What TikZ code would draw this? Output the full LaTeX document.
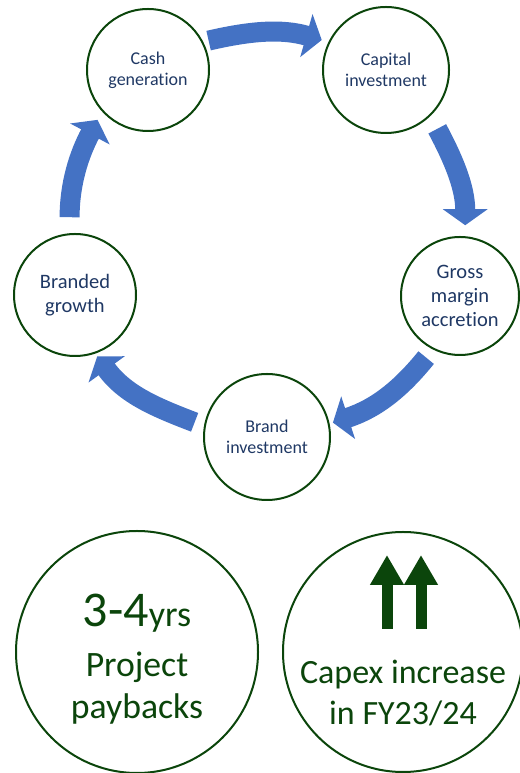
\documentclass[tikz,border=0pt]{standalone}
\usepackage{fontspec}
\setmainfont{Carlito}[Ligatures=NoCommon]
\usetikzlibrary{arrows.meta,calc}
\definecolor{ringgreen}{HTML}{0B450B}
\definecolor{cyclenavy}{HTML}{1F3864}
\definecolor{flowblue}{HTML}{4472C4}
\tikzset{
  ring/.style={circle,draw=ringgreen,line width=2pt,minimum size=122pt,inner sep=0pt,
    align=center,text=cyclenavy,font=\fontsize{18}{21}\selectfont},
  bigring/.style={circle,draw=ringgreen,line width=2pt,minimum size=240pt,inner sep=0pt},
  bigtext/.style={text=ringgreen,align=center,inner sep=0pt},
  flow/.style={draw=flowblue,line width=20pt,-{Triangle[length=16pt,width=44pt]}},
  lift/.style={draw=ringgreen,line width=11pt,-{Triangle[length=30pt,width=32pt]}}
}

\begin{document}
\begin{tikzpicture}[x=1pt,y=1pt]
\useasboundingbox (0,0) rectangle (519,773);
% the cycle
\node[ring] (cash) at (148,703) {Cash\\generation};
\node[ring,minimum size=126pt] (capital) at (386,703) {Capital\\investment};
\node[ring,minimum size=118pt,font=\fontsize{20.5}{24}\selectfont] (gross) at (460,477) {Gross\\margin\\accretion};
\node[ring,minimum size=126pt] (brandinv) at (267,336) {Brand\\investment};
\node[ring,font=\fontsize{20.5}{24}\selectfont] (branded) at (75,478) {Branded\\growth};
\draw[flow,shorten <=5.5pt,shorten >=7pt] (cash.27) to[out=13,in=164] (capital.154);
\draw[flow,shorten <=14.5pt,shorten >=11pt] (capital.-46.5) to[out=-62,in=90] (gross.85);
\draw[flow,shorten <=10.5pt,shorten >=3.5pt] (gross.243) to[out=-129,in=18] (brandinv.12);
\draw[flow,shorten <=10pt,shorten >=3.5pt] (brandinv.170) to[out=159,in=-54] (branded.-71);
\draw[flow,shorten <=16pt,shorten >=9.5pt] (branded.95) to[out=90,in=-118] (cash.222);
% the two facts
\node[bigring,minimum size=242pt] (payback) at (137,121) {};
\node[bigtext,font=\fontsize{35.7}{42}\selectfont] (paytext) at (137,114)
  {{\fontsize{50}{50}\selectfont 3-4}{\fontsize{36}{36}\selectfont yrs}\\[8pt]Project\\paybacks};
\node[bigring,minimum size=240pt] (capex) at (403,121) {};
\node[bigtext,font=\fontsize{34}{41}\selectfont] (capextext) at (403,80) {Capex increase\\in FY23/24};
\foreach \dx in {-16,18}
  \draw[lift] ($(capex.center)+(\dx,23)$) -- ++(0,74);
\end{tikzpicture}
\end{document}
